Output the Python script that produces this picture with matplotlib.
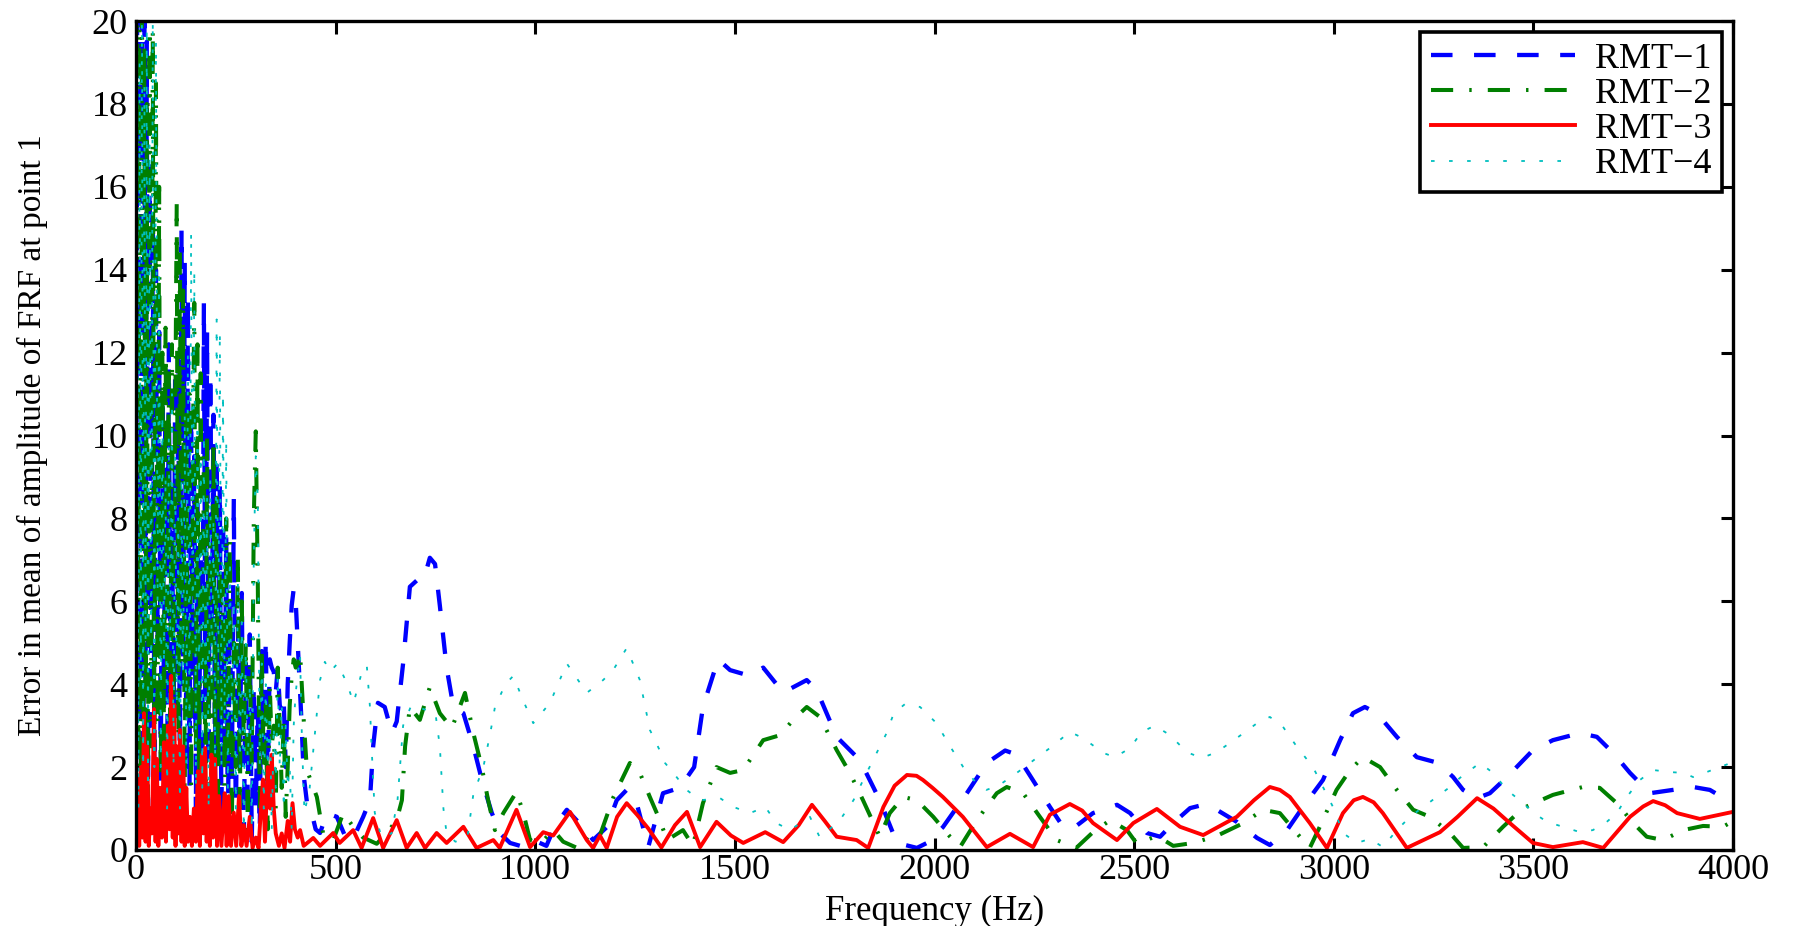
import numpy as np
import matplotlib
matplotlib.use('Agg')
import matplotlib.pyplot as plt

# RMT-1 (blue dashed)
rmt1_freq = [0, 3, 6, 9, 12, 15, 18, 21, 24, 27, 30, 34, 38, 42, 46, 50, 54, 58, 62, 66,
             70, 74, 78, 82, 86, 90, 94, 98, 102, 106, 110, 114, 118, 122, 126, 130, 134, 138, 142, 146,
             150, 154, 158, 162, 166, 170, 174, 178, 182, 186, 190, 194, 198, 202, 206, 210, 214, 218, 222, 226,
             230, 235, 240, 245, 250, 255, 260, 265, 270, 275, 280, 285, 290, 295, 300, 305, 310, 315, 320, 325,
             330, 335, 340, 345, 350, 355, 360, 365, 370, 375, 380, 385, 390, 395, 400, 405, 410, 415, 420, 430,
             440, 450, 461, 478, 503, 528, 545, 569, 586, 594, 606, 623, 641, 653, 669, 686, 703, 720, 736, 749,
             761, 778, 795, 820, 845, 866, 891, 911, 937, 962, 995, 1028, 1050, 1079, 1120, 1145, 1179, 1204, 1229, 1254,
             1283, 1320, 1362, 1398, 1420, 1458, 1488, 1538, 1571, 1621, 1680, 1705, 1755, 1813, 1863, 1906, 1956, 1981, 2021, 2081,
             2131, 2177, 2206, 2247, 2289, 2322, 2347, 2397, 2457, 2490, 2532, 2565, 2598, 2640, 2673, 2707, 2757, 2808, 2840, 2883,
             2923, 2973, 3016, 3048, 3078, 3108, 3158, 3208, 3262, 3299, 3324, 3359, 3391, 3434, 3499, 3549, 3617, 3659, 3700, 3742,
             3792, 3850, 3900, 3942, 4000]
rmt1_err = [2.0, 21, 1.5, 24, 3.0, 22, 2.0, 20.5, 4.0, 19.5, 1.0, 16.5, 3.0, 15.2, 2.0, 14.0, 5.0, 12.5, 1.5, 11.0,
            3.5, 10.5, 0.8, 12.2, 4.0, 9.5, 2.0, 11.5, 3.0, 12.0, 1.0, 15.0, 4.0, 14.2, 2.0, 13.3, 1.5, 10.5, 3.0, 9.5,
            0.8, 8.5, 2.5, 7.0, 1.0, 13.2, 3.5, 12.5, 2.0, 11.5, 5.0, 10.5, 1.5, 9.5, 3.0, 8.8, 0.5, 8.0, 2.5, 7.6,
            0.3, 6.0, 1.5, 8.5, 0.5, 5.5, 2.0, 6.2, 0.3, 4.5, 1.2, 5.2, 0.2, 4.0, 1.0, 3.5, 0.5, 4.8, 2.0, 5.1,
            1.5, 4.6, 4.4, 4.3, 3.8, 4.4, 3.5, 3.3, 3.6, 2.0, 4.0, 5.0, 5.9, 6.3, 6.0, 5.0, 4.0, 3.0, 1.8, 1.0,
            0.9, 0.5, 0.41, 0.89, 0.8, 0.24, 0.3, 0.8, 1.2, 2.5, 3.55, 3.45, 2.82, 3.1, 4.5, 6.35, 6.5, 6.5, 7.05, 6.9,
            5.9, 4.4, 3.45, 3.3, 2.5, 1.7, 0.9, 0.41, 0.17, 0.1, 0.24, 0.1, 0.6, 0.97, 0.55, 0.24, 0.55, 1.2, 1.45, 1.13,
            0.07, 1.37, 1.5, 2.0, 3.45, 4.6, 4.34, 4.2, 4.4, 3.8, 4.1, 3.86, 2.73, 2.17, 1.2, 0.17, 0.05, 0.17, 0.55, 1.37,
            2.1, 2.4, 2.3, 1.68, 1.04, 0.56, 0.52, 0.89, 1.09, 0.89, 0.41, 0.32, 0.65, 1.01, 1.09, 0.97, 0.68, 0.29, 0.12, 0.48,
            1.04, 1.69, 2.65, 3.3, 3.45, 3.3, 2.73, 2.24, 2.1, 1.76, 1.45, 1.25, 1.37, 1.76, 2.41, 2.65, 2.82, 2.73, 2.34, 1.86,
            1.37, 1.45, 1.52, 1.45, 1.12]

# RMT-2 (green dash-dot)
rmt2_freq = [0, 3, 6, 9, 12, 15, 18, 21, 24, 27, 30, 34, 38, 42, 46, 50, 54, 58, 62, 66,
             70, 74, 78, 82, 86, 90, 94, 98, 102, 106, 110, 114, 118, 122, 126, 130, 134, 138, 142, 146,
             150, 154, 158, 162, 166, 170, 174, 178, 182, 186, 190, 194, 198, 202, 206, 210, 214, 218, 222, 226,
             230, 235, 240, 245, 250, 255, 260, 265, 270, 275, 280, 285, 290, 295, 300, 305, 310, 315, 320, 325,
             330, 335, 340, 345, 350, 355, 360, 365, 370, 375, 380, 385, 390, 395, 400, 405, 411, 419, 428, 453,
             470, 494, 519, 545, 569, 603, 628, 653, 666, 674, 686, 711, 736, 761, 791, 824, 845, 866, 882, 899,
             920, 953, 970, 987, 1012, 1045, 1070, 1112, 1137, 1162, 1196, 1237, 1262, 1287, 1312, 1330, 1370, 1395, 1420, 1454,
             1488, 1521, 1571, 1613, 1646, 1680, 1713, 1755, 1788, 1821, 1863, 1888, 1922, 1956, 1997, 2039, 2064, 2106, 2156, 2181,
             2222, 2264, 2306, 2355, 2397, 2440, 2482, 2507, 2557, 2598, 2648, 2707, 2774, 2823, 2865, 2907, 2940, 2965, 3007, 3041,
             3073, 3116, 3158, 3199, 3241, 3291, 3324, 3374, 3424, 3474, 3549, 3624, 3666, 3709, 3750, 3784, 3825, 3875, 3925, 3975,
             4000]
rmt2_err = [1.0, 20.5, 2.0, 22, 1.0, 21, 3.0, 19.5, 1.5, 18, 0.5, 21, 2.5, 19.8, 1.0, 18.5, 3.0, 16.0, 1.0, 12.0,
            2.5, 12.6, 4.0, 11.5, 1.5, 12.2, 3.5, 10.0, 15.6, 2.0, 14.5, 4.5, 13.5, 1.0, 10.5, 3.0, 11.0, 1.5, 9.0, 13.2,
            2.5, 12.2, 0.8, 11.5, 4.0, 9.5, 1.0, 10.0, 3.0, 8.0, 0.5, 9.9, 2.0, 8.5, 0.5, 7.0, 3.0, 6.5, 1.0, 8.0,
            2.0, 7.5, 0.5, 5.0, 2.0, 7.1, 1.0, 6.0, 2.5, 5.0, 0.5, 4.5, 2.0, 8.0, 10.1, 6.5, 1.0, 4.9, 2.0, 3.5,
            0.5, 4.0, 2.5, 3.0, 1.0, 4.4, 3.0, 1.5, 3.2, 0.8, 2.0, 3.5, 4.2, 4.6, 4.4, 4.5, 4.75, 3.3, 1.93, 1.28,
            0.32, 0.24, 0.89, 0.55, 0.3, 0.15, 0.41, 0.72, 1.2, 2.5, 3.45, 3.14, 3.93, 3.3, 2.94, 3.79, 2.82, 2.0, 1.2, 0.48,
            0.89, 1.4, 0.9, 0.24, 0.15, 0.48, 0.2, 0.02, 0.41, 0.35, 1.28, 2.1, 1.86, 1.28, 0.72, 0.24, 0.48, 0.1, 1.13, 2.0,
            1.86, 1.93, 2.65, 2.77, 3.14, 3.45, 3.21, 2.41, 1.86, 1.2, 0.32, 0.89, 1.28, 1.2, 0.8, 0.32, 0.07, 0.72, 1.37, 1.52,
            1.37, 0.8, 0.24, 0.05, 0.43, 0.72, 0.48, 0.15, 0.34, 0.1, 0.17, 0.34, 0.65, 0.97, 0.89, 0.41, 0.05, 0.56, 1.45, 1.93,
            2.24, 2.0, 1.45, 0.97, 0.8, 0.41, 0.05, 0.07, 0.56, 1.01, 1.33, 1.52, 1.5, 1.13, 0.65, 0.32, 0.24, 0.48, 0.58, 0.56,
            0.7]

# RMT-3 (red solid)
rmt3_freq = [0, 4, 8, 12, 16, 20, 24, 28, 32, 36, 40, 45, 49, 52, 56, 60, 65, 70, 75, 80,
             84, 88, 92, 96, 99, 102, 106, 110, 114, 118, 122, 126, 130, 135, 140, 145, 150, 155, 160, 165,
             169, 173, 177, 181, 185, 189, 193, 198, 203, 208, 214, 222, 227, 232, 238, 245, 251, 258, 264, 270,
             277, 285, 292, 300, 307, 313, 318, 323, 330, 336, 340, 345, 350, 358, 365, 372, 380, 386, 392, 398,
             405, 411, 420, 444, 461, 494, 510, 544, 565, 594, 619, 653, 678, 703, 724, 753, 778, 820, 853, 895,
             911, 953, 987, 1020, 1045, 1087, 1129, 1145, 1162, 1179, 1205, 1229, 1255, 1283, 1316, 1350, 1380, 1413, 1454, 1490,
             1521, 1576, 1621, 1660, 1693, 1725, 1755, 1805, 1834, 1872, 1900, 1931, 1955, 1971, 1995, 2021, 2071, 2131, 2189, 2247,
             2289, 2339, 2370, 2397, 2457, 2498, 2557, 2615, 2673, 2757, 2800, 2840, 2865, 2890, 2940, 2983, 3023, 3050, 3073, 3100,
             3123, 3183, 3266, 3310, 3359, 3400, 3441, 3499, 3549, 3624, 3675, 3742, 3775, 3800, 3830, 3860, 3917, 4000]
rmt3_err = [0.2, 1.8, 0.1, 2.0, 0.3, 3.3, 0.2, 2.5, 0.1, 1.0, 0.4, 3.4, 0.2, 2.2, 0.1, 1.5, 0.3, 2.6, 0.2, 3.0,
            0.5, 4.2, 0.3, 3.5, 0.1, 2.5, 0.4, 2.9, 0.2, 2.5, 0.1, 1.5, 0.2, 0.8, 0.1, 1.0, 0.2, 1.9, 0.1, 2.3,
            0.4, 2.46, 0.2, 1.6, 0.1, 2.3, 0.3, 2.2, 0.1, 1.3, 0.1, 1.37, 0.1, 1.3, 0.1, 0.9, 0.1, 1.3, 0.1, 0.6,
            0.1, 0.8, 0.05, 0.3, 0.05, 1.0, 1.7, 0.2, 2.0, 1.0, 2.3, 1.0, 0.4, 0.1, 0.4, 0.05, 0.7, 0.2, 1.13, 0.5,
            0.3, 0.48, 0.1, 0.29, 0.1, 0.41, 0.17, 0.48, 0.05, 0.77, 0.05, 0.72, 0.05, 0.41, 0.05, 0.41, 0.17, 0.56, 0.05, 0.24,
            0.05, 0.97, 0.07, 0.43, 0.35, 0.92, 0.24, 0.05, 0.35, 0.05, 0.8, 1.13, 0.85, 0.52, 0.06, 0.6, 0.92, 0.07, 0.68, 0.35,
            0.17, 0.43, 0.19, 0.6, 1.09, 0.7, 0.32, 0.24, 0.05, 1.04, 1.55, 1.81, 1.79, 1.69, 1.5, 1.28, 0.8, 0.07, 0.39, 0.07,
            0.85, 1.11, 0.95, 0.65, 0.24, 0.65, 0.99, 0.56, 0.36, 0.8, 1.2, 1.52, 1.45, 1.28, 0.65, 0.05, 0.89, 1.2, 1.28, 1.15,
            0.89, 0.05, 0.43, 0.8, 1.25, 1.0, 0.65, 0.17, 0.07, 0.19, 0.05, 0.8, 1.05, 1.18, 1.08, 0.89, 0.75, 0.92]

# RMT-4 (cyan dotted)
rmt4_freq = [0, 3, 6, 9, 12, 15, 18, 21, 24, 27, 30, 34, 38, 42, 46, 50, 54, 58, 62, 66,
             70, 74, 78, 82, 86, 90, 94, 98, 102, 106, 110, 114, 118, 122, 126, 130, 134, 138, 142, 146,
             150, 154, 158, 162, 166, 170, 174, 178, 182, 186, 190, 194, 198, 202, 206, 210, 214, 218, 222, 226,
             230, 235, 240, 245, 250, 255, 260, 265, 270, 275, 280, 285, 290, 295, 300, 305, 310, 315, 320, 325,
             330, 335, 340, 345, 350, 355, 360, 365, 370, 375, 380, 385, 390, 395, 400, 405, 411, 416, 422, 435,
             453, 461, 473, 486, 505, 528, 545, 565, 578, 586, 590, 598, 615, 640, 655, 669, 690, 720, 750, 761,
             770, 778, 800, 830, 845, 870, 887, 900, 911, 925, 945, 970, 995, 1037, 1079, 1129, 1170, 1195, 1229, 1262,
             1287, 1312, 1325, 1354, 1379, 1413, 1463, 1496, 1538, 1576, 1604, 1638, 1688, 1713, 1763, 1797, 1830, 1855, 1880, 1898,
             1926, 1964, 2005, 2039, 2072, 2106, 2130, 2160, 2206, 2289, 2339, 2372, 2423, 2452, 2490, 2519, 2552, 2590, 2632, 2669,
             2707, 2757, 2808, 2840, 2873, 2907, 2948, 2973, 2998, 3023, 3058, 3091, 3123, 3158, 3191, 3258, 3291, 3316, 3366, 3399,
             3434, 3459, 3509, 3534, 3574, 3617, 3649, 3684, 3709, 3734, 3767, 3800, 3842, 3876, 3900, 3934, 3967, 4000]
rmt4_err = [3.0, 20.5, 1.0, 19.0, 4.0, 21, 2.0, 18.5, 5.0, 20.5, 1.5, 17.0, 4.0, 20.0, 2.0, 19.5, 6.0, 14.0, 2.0, 10.5,
            4.5, 9.0, 1.0, 10.0, 5.0, 11.0, 2.0, 9.5, 3.5, 8.0, 1.0, 9.0, 4.0, 10.5, 2.0, 12.0, 3.0, 14.9, 5.0, 14.0,
            1.5, 10.5, 4.0, 9.5, 1.5, 10.0, 3.0, 8.5, 1.0, 9.0, 4.0, 8.0, 2.0, 12.8, 4.0, 12.5, 2.0, 11.0, 3.0, 9.9,
            1.5, 7.0, 3.0, 6.0, 1.0, 6.5, 2.0, 5.5, 0.5, 5.0, 2.0, 4.0, 0.5, 7.0, 9.5, 8.5, 2.0, 4.5, 1.0, 4.0,
            2.0, 3.5, 0.5, 3.0, 1.5, 4.2, 2.0, 3.5, 1.0, 3.0, 1.5, 2.0, 0.5, 3.0, 3.8, 4.2, 4.7, 2.5, 0.9, 1.5,
            3.3, 4.1, 4.54, 4.3, 4.5, 4.03, 3.55, 4.27, 4.46, 3.45, 2.5, 0.9, 0.3, 0.4, 1.2, 3.0, 3.5, 3.4, 3.3, 2.5,
            1.0, 0.4, 0.2, 0.3, 1.35, 2.0, 2.8, 3.5, 3.7, 4.0, 4.2, 3.6, 3.06, 3.55, 4.5, 3.79, 4.1, 4.34, 4.87, 4.1,
            2.9, 2.4, 2.1, 1.76, 1.45, 1.2, 1.25, 1.04, 0.89, 1.04, 0.65, 0.48, 0.8, 0.3, 0.72, 1.2, 1.86, 2.34, 2.82, 3.3,
            3.52, 3.45, 3.06, 2.5, 2.0, 1.6, 1.45, 1.55, 1.86, 2.46, 2.85, 2.7, 2.34, 2.24, 2.46, 2.85, 3.0, 2.77, 2.36, 2.22,
            2.36, 2.7, 3.06, 3.21, 2.97, 2.5, 2.0, 1.52, 1.04, 0.41, 0.17, 0.27, 0.07, 0.48, 0.8, 1.28, 1.52, 1.74, 2.1, 1.86,
            1.45, 1.25, 0.84, 0.68, 0.56, 0.43, 0.48, 0.68, 0.89, 1.28, 1.69, 1.93, 1.88, 1.86, 1.76, 1.88, 2.0, 2.12]

labels = ['RMT\u22121', 'RMT\u22122', 'RMT\u22123', 'RMT\u22124']
x_ticks = [0, 500, 1000, 1500, 2000, 2500, 3000, 3500, 4000]
y_ticks = [0, 2, 4, 6, 8, 10, 12, 14, 16, 18, 20]

plt.rcParams['font.family'] = ['Liberation Serif', 'DejaVu Serif']

fig = plt.figure(figsize=(18.02, 9.26), dpi=100)
ax = fig.add_axes([136 / 1802, 1 - 850 / 926, (1733 - 136) / 1802, (850 - 21) / 926])

ax.plot(rmt1_freq, rmt1_err, color='#0000ff', lw=3.1, linestyle=(0, (5, 5)), label=labels[0])
ax.plot(rmt2_freq, rmt2_err, color='#007f00', lw=2.9, linestyle=(0, (5.5, 4, 0.6, 4)), label=labels[1])
ax.plot(rmt3_freq, rmt3_err, color='#ff0000', lw=2.8, linestyle='-', label=labels[2])
ax.plot(rmt4_freq, rmt4_err, color='#00bfbf', lw=1.3, linestyle=(0, (2, 8)), label=labels[3])

ax.set_xlim(0, 4000)
ax.set_ylim(0, 20)
ax.set_xticks(x_ticks)
ax.set_yticks(y_ticks)
ax.tick_params(direction='in', length=9, width=2.2, top=True, right=True,
               labelsize=26, pad=3)
ax.tick_params(axis='y', pad=6)
for sp in ax.spines.values():
    sp.set_linewidth(2.4)

ax.set_xlabel('Frequency (Hz)', fontsize=25)
ax.set_ylabel('Error in mean of amplitude of FRF at point 1', fontsize=24)
ax.xaxis.set_label_coords(0.5, -0.0545)
ax.xaxis.label.set_va('top')
ax.yaxis.set_label_coords(-0.055, 0.5)

leg = ax.legend(loc='upper right', fontsize=26, fancybox=False, framealpha=1,
                edgecolor='black', handlelength=4.0, handletextpad=0.55,
                labelspacing=0.05, borderpad=0.3, borderaxespad=0.3)
leg.get_frame().set_linewidth(2.6)

fig.savefig('out.png', dpi=100)
